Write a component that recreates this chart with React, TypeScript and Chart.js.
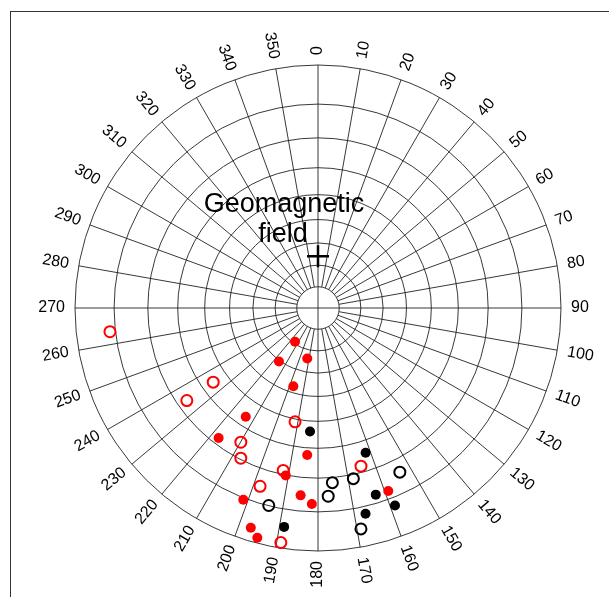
import { useEffect, useRef } from "react";
import { Chart, registerables } from "chart.js";

Chart.register(...registerables);

// Azimuth tick labels (degrees, clockwise from north)
const azimuthTicks = [0, 10, 20, 30, 40, 50, 60, 70, 80, 90, 100, 110, 120, 130, 140, 150, 160, 170, 180, 190, 200, 210, 220, 230, 240, 250, 260, 270, 280, 290, 300, 310, 320, 330, 340, 350];
const azimuthLabels = azimuthTicks.map((a) => String(a));
// Inclination rings (degrees); the first one is the inner hole
const ringInclinations = [80, 70, 60, 50, 40, 30, 20, 10, 0];

// Series: declination / inclination (degrees)
const redFilledDec = [214.2, 216.1, 192.0, 197.5, 213.6, 217.4, 184.2, 190.9, 201.3, 185.3, 181.8, 197.0, 194.8, 159.0];
const redFilledInc = [70.9, 59.5, 66.0, 52.7, 33.5, 22.1, 27.5, 19.9, 9.5, 14.5, 12.2, 3.2, 1.3, 12.2];

const redOpenDec = [263.5, 234.7, 234.8, 191.4, 209.9, 207.2, 192.1, 198.0, 189.0, 164.8];
const redOpenInc = [8.5, 34.3, 23.1, 38.9, 25.0, 20.4, 21.3, 14.7, 1.3, 22.0];

const blackFilledDec = [183.7, 161.8, 162.8, 158.7, 167.0, 188.8];
const blackFilledInc = [36.0, 25.8, 12.4, 7.8, 8.0, 5.3];

const blackOpenDec = [194.0, 175.3, 176.9, 168.3, 153.5, 169.0];
const blackOpenInc = [10.1, 18.4, 14.4, 18.7, 15.9, 4.4];

const fieldDec = [0];
const fieldInc = [66];
const fieldLabel = ["Geomagnetic", "field"];

const rad = (d: number) => (d * Math.PI) / 180;
const projR = (inc: number) => Math.tan(rad((90 - inc) / 2));
const toXY = (decs: number[], incs: number[]) =>
  decs.map((d, i) => {
    const r = projR(incs[i]);
    return { x: r * Math.sin(rad(d)), y: r * Math.cos(rad(d)) };
  });

const FONT = '"Liberation Sans", Arial, sans-serif';

const gridPlugin = {
  id: "stereoGrid",
  beforeDatasetsDraw(chart: any) {
    const ctx = chart.ctx as CanvasRenderingContext2D;
    const xs = chart.scales.x;
    const ys = chart.scales.y;
    const cx = xs.getPixelForValue(0);
    const cy = ys.getPixelForValue(0);
    const rpx = (v: number) => xs.getPixelForValue(v) - cx;
    const R = rpx(1);
    const rHole = rpx(projR(ringInclinations[0]));

    ctx.save();
    // frame
    ctx.strokeStyle = "#333";
    ctx.lineWidth = 1;
    ctx.strokeRect(10.5, 11.5, 2000, 2000);

    ctx.strokeStyle = "#222";
    ctx.lineWidth = 0.9;
    // rings
    ringInclinations.forEach((inc) => {
      ctx.beginPath();
      ctx.arc(cx, cy, rpx(projR(inc)), 0, Math.PI * 2);
      ctx.stroke();
    });
    // radials
    azimuthTicks.forEach((a) => {
      const s = Math.sin(rad(a));
      const c = -Math.cos(rad(a));
      const r0 = a % 90 === 0 ? 0 : rHole;
      ctx.beginPath();
      ctx.moveTo(cx + s * r0, cy + c * r0);
      ctx.lineTo(cx + s * R, cy + c * R);
      ctx.stroke();
    });

    // azimuth labels
    ctx.fillStyle = "#000";
    ctx.font = `16px ${FONT}`;
    ctx.textBaseline = "middle";
    azimuthTicks.forEach((a, i) => {
      const s = Math.sin(rad(a));
      const c = -Math.cos(rad(a));
      const rl = R + 10;
      ctx.save();
      ctx.translate(cx + s * rl, cy + c * rl);
      if (a < 180) {
        ctx.rotate(rad(a - 90));
        ctx.textAlign = "left";
      } else {
        ctx.rotate(rad(a - 270));
        ctx.textAlign = "right";
      }
      ctx.fillText(azimuthLabels[i], 0, 0);
      ctx.restore();
    });

    // field annotation text
    const fp = toXY(fieldDec, fieldInc)[0];
    const fx = xs.getPixelForValue(fp.x);
    const fy = ys.getPixelForValue(fp.y);
    ctx.font = `27px ${FONT}`;
    ctx.textAlign = "center";
    ctx.textBaseline = "alphabetic";
    ctx.fillText(fieldLabel[0], fx - 34, fy - 44);
    ctx.fillText(fieldLabel[1], fx - 35, fy - 14);
    ctx.restore();
  },
};

export default function App() {
  const ref = useRef<HTMLCanvasElement | null>(null);
  useEffect(() => {
    if (!ref.current) return;
    const chart = new Chart(ref.current, {
      type: "scatter",
      data: {
        datasets: [
          {
            data: toXY(redOpenDec, redOpenInc),
            pointStyle: "circle",
            pointRadius: 5.5,
            borderWidth: 2,
            borderColor: "#FF0000",
            backgroundColor: "rgba(0,0,0,0)",
          },
          {
            data: toXY(redFilledDec, redFilledInc),
            pointStyle: "circle",
            pointRadius: 5,
            borderWidth: 0,
            borderColor: "#FF0000",
            backgroundColor: "#FF0000",
          },
          {
            data: toXY(blackOpenDec, blackOpenInc),
            pointStyle: "circle",
            pointRadius: 5.5,
            borderWidth: 2,
            borderColor: "#000",
            backgroundColor: "rgba(0,0,0,0)",
          },
          {
            data: toXY(blackFilledDec, blackFilledInc),
            pointStyle: "circle",
            pointRadius: 5,
            borderWidth: 0,
            borderColor: "#000",
            backgroundColor: "#000",
          },
          {
            data: toXY(fieldDec, fieldInc),
            pointStyle: "cross",
            pointRadius: 11,
            borderWidth: 2.5,
            borderColor: "#000",
            backgroundColor: "#000",
          },
        ] as any,
      },
      options: {
        responsive: false,
        devicePixelRatio: 1,
        animation: false,
        layout: { padding: { left: 75, right: 48, top: 65, bottom: 46 } },
        plugins: { legend: { display: false }, tooltip: { enabled: false } },
        elements: { point: { hoverRadius: 5 } },
        scales: {
          x: { type: "linear", min: -1, max: 1, display: false },
          y: { type: "linear", min: -1, max: 1, display: false },
        },
      },
      plugins: [gridPlugin],
    } as any);
    return () => chart.destroy();
  }, []);
  return (
    <div style={{ position: "absolute", left: 0, top: 0, width: 609, height: 597, background: "#fff" }}>
      <canvas ref={ref} width={609} height={597} style={{ display: "block", width: 609, height: 597 }} />
    </div>
  );
}
